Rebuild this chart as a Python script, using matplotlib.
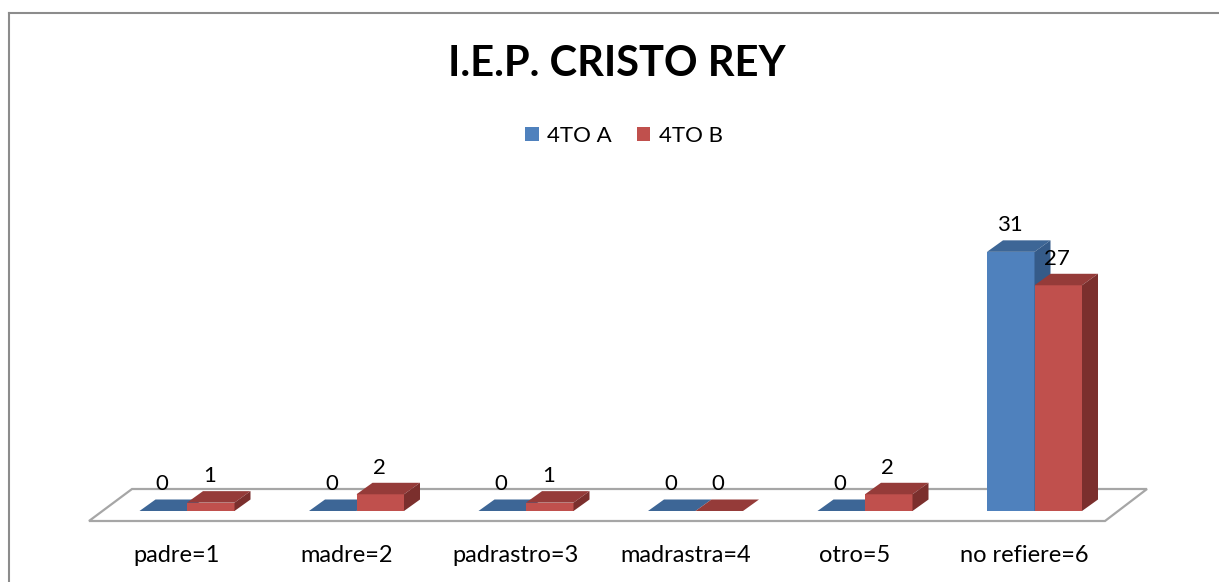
import matplotlib
matplotlib.use("Agg")
import matplotlib.pyplot as plt
from matplotlib.patches import Polygon, Patch
from matplotlib.lines import Line2D

categories = ["padre=1", "madre=2", "padrastro=3", "madrastra=4", "otro=5", "no refiere=6"]
series_names = ["4TO A", "4TO B"]
values_a = [0, 0, 0, 0, 0, 31]
values_b = [1, 2, 1, 0, 2, 27]
title = "I.E.P. CRISTO REY"

FONT = ["Lato", "DejaVu Sans"]
plt.rcParams["font.family"] = FONT

W, H = 1219, 582
fig = plt.figure(figsize=(W / 100, H / 100), dpi=100)
fig.patch.set_facecolor("white")

# pixel layout of the pseudo-3D plot
PX_CAT = 169.5      # pixels between categories
PX_UNIT = 8.36      # pixels per value unit
X_ORIGIN = 187      # pixel x of first category (junction of bars)
Y_BASE = 511        # pixel y of bar base

def px_x(px):
    return (px - X_ORIGIN) / PX_CAT

def px_y(py):
    return (Y_BASE - py) / PX_UNIT

ax = fig.add_axes([0, 0, 1, 1])
ax.set_xlim(px_x(0), px_x(W))
ax.set_ylim(px_y(H), px_y(0))
ax.axis("off")

# floor
floor = Polygon([(px_x(89), px_y(521)), (px_x(1105), px_y(521)),
                 (px_x(1147), px_y(489)), (px_x(132), px_y(489))],
                closed=True, facecolor="white", edgecolor="#A6A6A6", lw=1.6, zorder=1)
ax.add_patch(floor)

bw = 47.5 / PX_CAT
dx = 16 / PX_CAT
dy = 11.5 / PX_UNIT

styles = [
    dict(front="#4F81BD", top="#3D6696", side="#355B89"),
    dict(front="#C0504D", top="#953B39", side="#7B2F2D"),
]

z = 2
for i in range(len(categories)):
    for s, vals in enumerate([values_a, values_b]):
        v = vals[i]
        x0 = i - bw if s == 0 else i
        x1 = x0 + bw
        st = styles[s]
        ax.bar([x0], [v], width=bw, align="edge", color=st["front"], lw=0, zorder=z)
        ax.add_patch(Polygon([(x0, v), (x1, v), (x1 + dx, v + dy), (x0 + dx, v + dy)],
                             closed=True, facecolor=st["top"], lw=0, zorder=z))
        ax.add_patch(Polygon([(x1, 0), (x1 + dx, dy), (x1 + dx, v + dy), (x1, v)],
                             closed=True, facecolor=st["side"], lw=0, zorder=z))
        z += 1
        ax.text(x0 + bw / 2 - 1 / PX_CAT, v + dy + 15 / PX_UNIT, str(v),
                ha="center", va="center", fontsize=16, color="black", zorder=50)

for i, c in enumerate(categories):
    ax.text(i - 10 / PX_CAT, px_y(556), c, ha="center", va="center", fontsize=17, color="black")

# chart border
fig.add_artist(Line2D([8.5 / W, 8.5 / W], [0, 1 - 12.5 / H], transform=fig.transFigure,
                      color="#8C8C8C", lw=1.5))
fig.add_artist(Line2D([8.5 / W, 1], [1 - 12.5 / H, 1 - 12.5 / H], transform=fig.transFigure,
                      color="#8C8C8C", lw=1.5))

fig.text(617 / W, 1 - 64 / H, title, ha="center", va="center", fontsize=30, fontweight="bold")

handles = [Patch(facecolor=styles[0]["front"], lw=0), Patch(facecolor=styles[1]["front"], lw=0)]
fig.legend(handles, series_names, loc="center", bbox_to_anchor=(624 / W, 1 - 136 / H),
           ncol=2, frameon=False, fontsize=16, handlelength=0.6, handleheight=0.6,
           handletextpad=0.4, columnspacing=1.1)

fig.savefig("out.png", dpi=100, facecolor="white")
